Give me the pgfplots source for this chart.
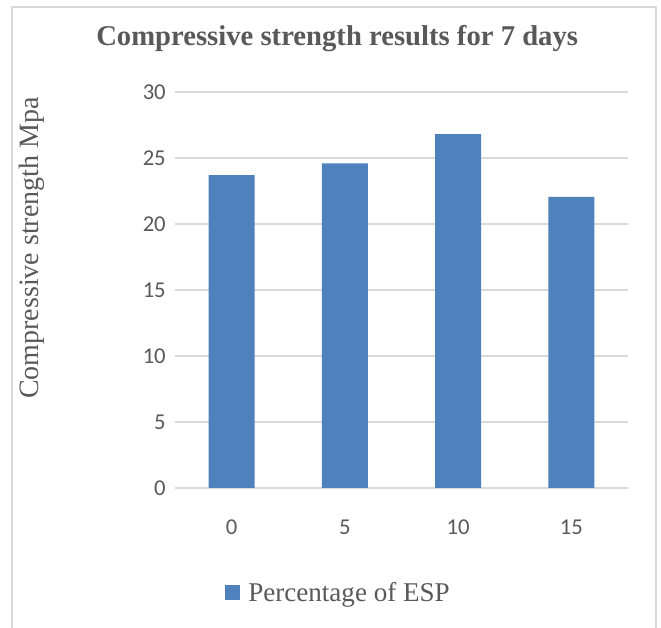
\documentclass[border=0pt]{standalone}
\usepackage{pgfplots}
\pgfplotsset{compat=1.18}
\usepackage{fontspec}
\setmainfont{Liberation Serif}
\newfontfamily\calibri{Carlito}
\definecolor{barblue}{HTML}{4F81BD}
\definecolor{txtgray}{HTML}{595959}
\definecolor{gridgray}{HTML}{D9D9D9}
\begin{document}
\begin{tikzpicture}
\useasboundingbox (0,0) rectangle (495.75pt,471pt);
\draw[line width=1.1pt, gridgray] (9pt,-10pt) -- (9pt,465.75pt) -- (492pt,465.75pt) -- (492pt,-10pt);
\begin{axis}[
  at={(131.25pt,105pt)}, anchor=south west,
  scale only axis, width=339.75pt, height=297pt,
  ybar, bar width=34.5pt,
  xmin=-0.5, xmax=3.5, ymin=0, ymax=30,
  xtick=data, xticklabels={0,5,10,15},
  ytick={0,5,10,15,20,25,30},
  ymajorgrids, grid style={gridgray, line width=0.9pt},
  axis line style={draw=none},
  major tick length=0pt,
  /pgf/number format/assume math mode=true,
  tick label style={font=\calibri\fontsize{17}{20}\selectfont, text=txtgray},
  yticklabel style={inner sep=0pt, anchor=east, xshift=-6.75pt},
  xticklabel style={inner sep=0pt, anchor=center, yshift=-29.25pt},
  title={Compressive strength results for 7 days},
  title style={at={(axis description cs:0.358,1.096)}, anchor=base, font=\bfseries\fontsize{21.5}{24}\selectfont, text=txtgray, inner sep=0pt},
  ylabel={Compressive strength Mpa},
  ylabel style={at={(axis description cs:-0.316,0.606)}, anchor=center, rotate=0, font=\fontsize{21}{24}\selectfont, text=txtgray, inner sep=0pt},
  legend style={at={(axis description cs:0.361,-0.265)}, anchor=center, draw=none, font=\fontsize{20.3}{24}\selectfont, text=txtgray, inner sep=0pt},
  legend image code/.code={\fill[barblue] (0pt,-5.6pt) rectangle (11.25pt,5.6pt); \path (15.75pt,0pt);},
]
\addplot[fill=barblue, draw=none] coordinates {(0,23.7) (1,24.6) (2,26.8) (3,22.05)};
\addlegendentry{Percentage of ESP}
\end{axis}
\end{tikzpicture}
\end{document}
